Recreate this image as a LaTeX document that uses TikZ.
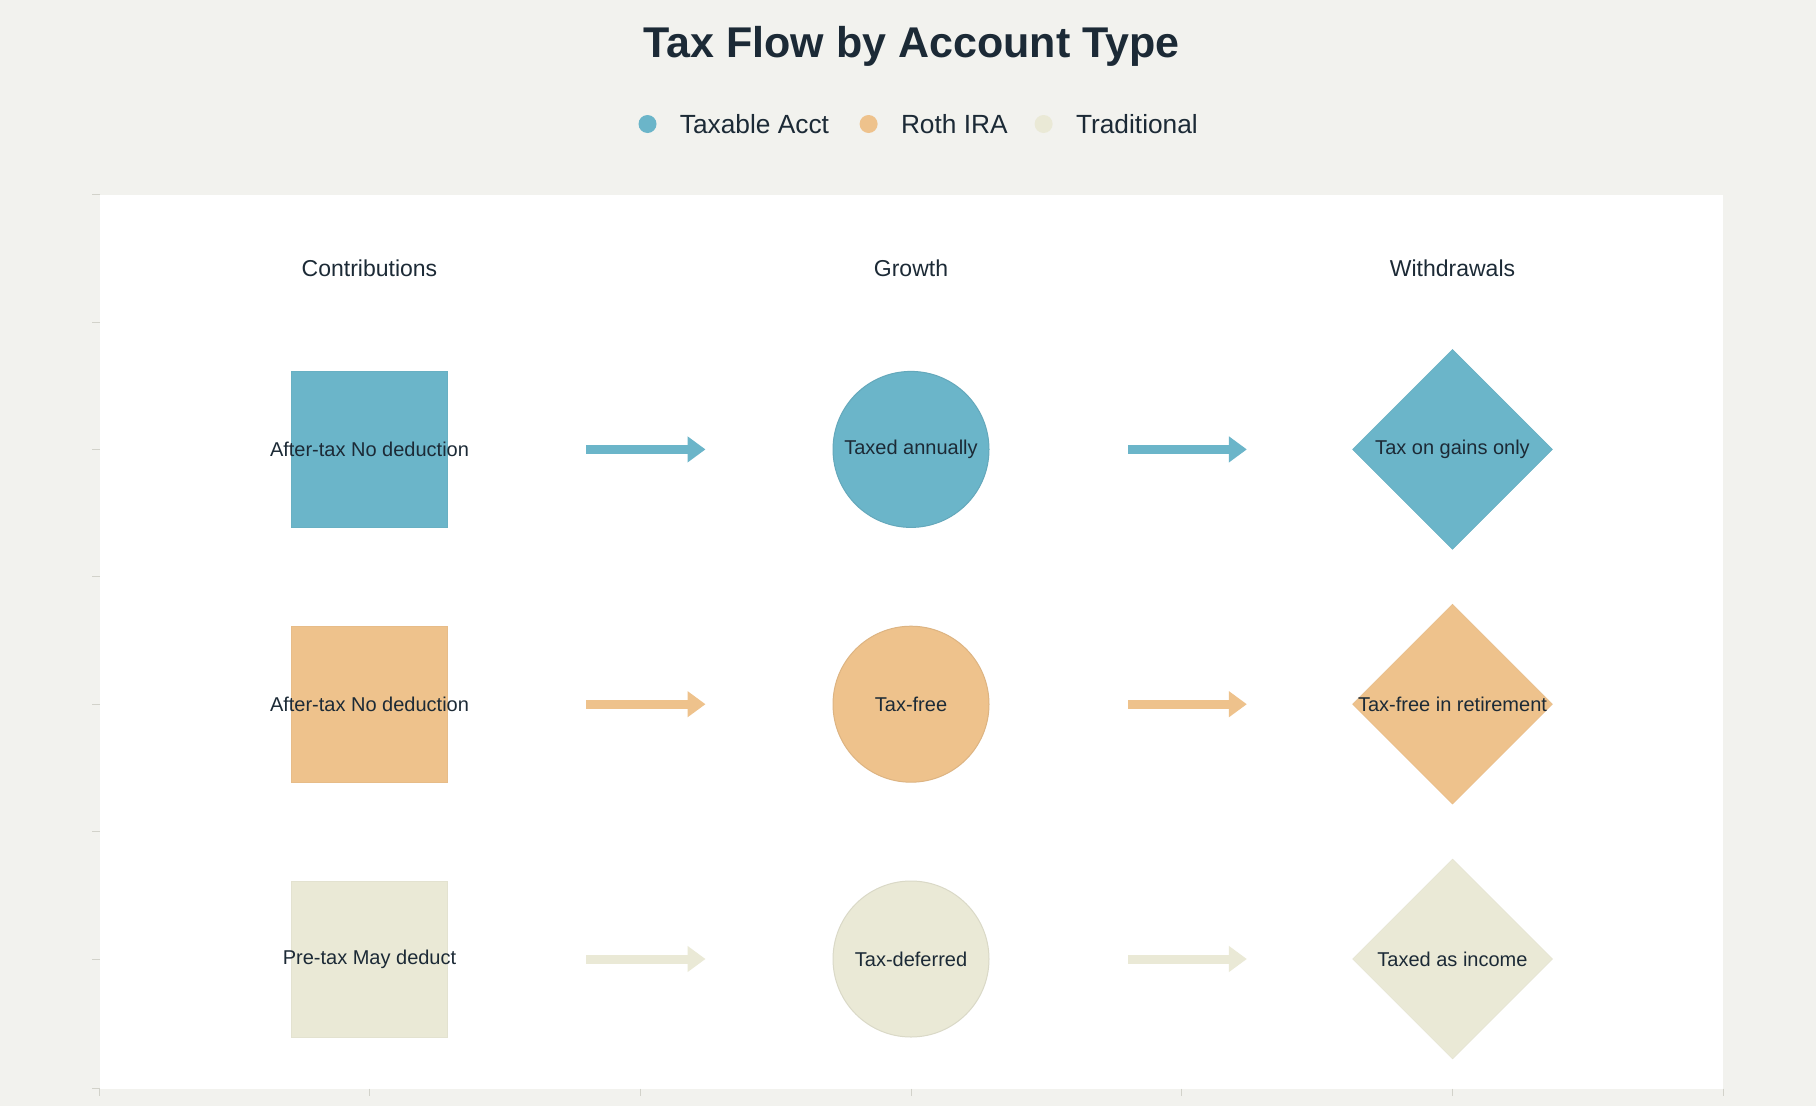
\documentclass[tikz,border=0pt]{standalone}
\usepackage{fontspec}
\setmainfont{Liberation Sans}
\usetikzlibrary{arrows.meta,positioning,shapes.geometric}

\definecolor{paper}{HTML}{F2F2EE}
\definecolor{taxblue}{HTML}{6BB5C9}
\definecolor{rothtan}{HTML}{EEC28C}
\definecolor{tradbeige}{HTML}{EAE9D6}
\definecolor{inkdark}{HTML}{1C2A36}
\definecolor{tickgray}{HTML}{D2D2CA}

\begin{document}
\begin{tikzpicture}[x=1pt,y=-1pt,node distance=541.5pt,text=inkdark,
    font=\fontsize{20}{24}\selectfont,
    contrib/.style={rectangle,minimum size=156pt,inner sep=0pt,fill=#1,draw=#1!97!black,line width=0.5pt},
    growth/.style={circle,minimum size=156pt,inner sep=0pt,fill=#1,draw=#1!93!black,line width=1pt},
    withdr/.style={diamond,minimum size=200pt,inner sep=0pt,fill=#1,draw=#1!97!black,line width=0.5pt},
    flow/.style={draw=#1,line width=9pt,-{Triangle[length=18pt,width=25pt]}},
    legdot/.style={circle,minimum size=18pt,inner sep=0pt,fill=#1},
    legtext/.style={inner sep=0pt,font=\fontsize{26.3}{31}\selectfont},
    colhead/.style={font=\fontsize{23}{28}\selectfont}]
  \fill[paper] (0,0) rectangle (1816,1106);
  \fill[white] (99.6,194.6) rectangle (1723.4,1088.7);
  \draw[tickgray,line width=1pt] (92,194.6) -- (99.6,194.6) (92,322) -- (99.6,322)
    (92,449.4) -- (99.6,449.4) (92,576.8) -- (99.6,576.8) (92,704.2) -- (99.6,704.2)
    (92,831.6) -- (99.6,831.6) (92,959) -- (99.6,959) (92,1088.7) -- (99.6,1088.7)
    (99.6,1088.7) -- (99.6,1096) (369.5,1088.7) -- (369.5,1096) (640.5,1088.7) -- (640.5,1096)
    (911.5,1088.7) -- (911.5,1096) (1181.4,1088.7) -- (1181.4,1096) (1452.4,1088.7) -- (1452.4,1096)
    (1723.4,1088.7) -- (1723.4,1096);

  % title and legend
  \node[font=\bfseries\fontsize{43}{50}\selectfont,anchor=base] (title) at (911.5,57) {Tax Flow by Account Type};
  \node[legdot=taxblue] (dTax) at (647.5,124) {};
  \node[legtext,right=23pt of dTax] (lTax) {Taxable Acct};
  \node[legdot=rothtan] (dRoth) at (868.6,124) {};
  \node[legtext,right=23pt of dRoth] (lRoth) {Roth IRA};
  \node[legdot=tradbeige] (dTrad) at (1043.6,124) {};
  \node[legtext,right=23pt of dTrad] (lTrad) {Traditional};

  % taxable account
  \node[contrib=taxblue,label=center:{After-tax No deduction}] (cTax) at (369.5,449.4) {};
  \node[growth=taxblue,label=center:{Taxed annually}] (gTax) [right of=cTax] {};
  \node[withdr=taxblue,label=center:{Tax on gains only}] (wTax) [right of=gTax] {};

  % roth ira
  \node[contrib=rothtan,label=center:{After-tax No deduction}] (cRoth) [below of=cTax,node distance=254.8pt] {};
  \node[growth=rothtan,label=center:{Tax-free}] (gRoth) [right of=cRoth] {};
  \node[withdr=rothtan,label=center:{Tax-free in retirement}] (wRoth) [right of=gRoth] {};

  % traditional
  \node[contrib=tradbeige,label=center:{Pre-tax May deduct}] (cTrad) [below of=cRoth,node distance=254.8pt] {};
  \node[growth=tradbeige,label=center:{Tax-deferred}] (gTrad) [right of=cTrad] {};
  \node[withdr=tradbeige,label=center:{Taxed as income}] (wTrad) [right of=gTrad] {};

  \node[colhead] (hCon) at (369.5,268.7) {Contributions};
  \node[colhead] (hGro) at (gTax |- hCon) {Growth};
  \node[colhead] (hWit) at (wTax |- hCon) {Withdrawals};

  \path (cTax) edge[flow=taxblue,shorten <=138.5pt,shorten >=127pt] (gTax)
        (gTax) edge[flow=taxblue,shorten <=138.5pt,shorten >=105.4pt] (wTax)
        (cRoth) edge[flow=rothtan,shorten <=138.5pt,shorten >=127pt] (gRoth)
        (gRoth) edge[flow=rothtan,shorten <=138.5pt,shorten >=105.4pt] (wRoth)
        (cTrad) edge[flow=tradbeige,shorten <=138.5pt,shorten >=127pt] (gTrad)
        (gTrad) edge[flow=tradbeige,shorten <=138.5pt,shorten >=105.4pt] (wTrad);
\end{tikzpicture}
\end{document}
